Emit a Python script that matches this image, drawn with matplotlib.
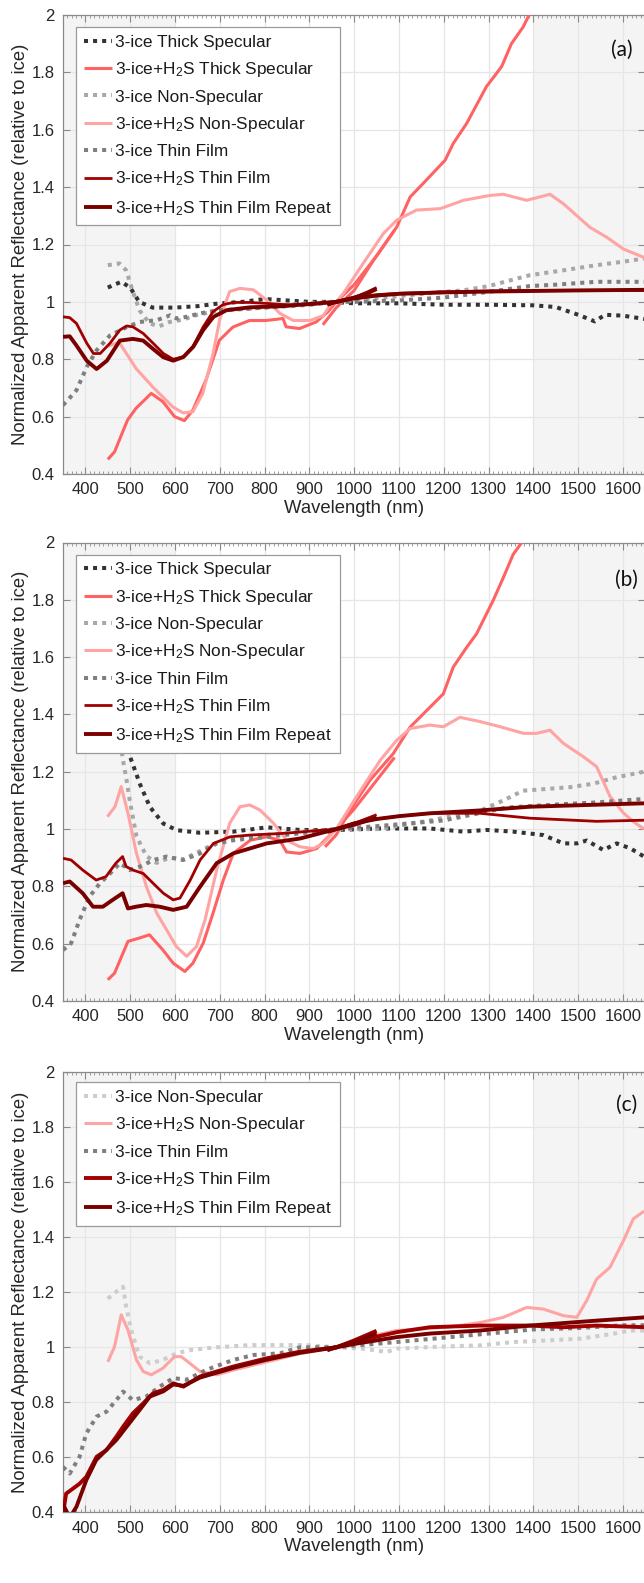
import numpy as np
import matplotlib
matplotlib.use("Agg")
import matplotlib.pyplot as plt
from matplotlib.ticker import MultipleLocator, FuncFormatter

plt.rcParams['font.family'] = ['Liberation Sans', 'DejaVu Sans']
plt.rcParams['mathtext.default'] = 'regular'

# ---------------- data: panel (a) ----------------
a_tspec_x = [450, 480, 500, 520, 550, 600, 650, 700, 750, 800, 850, 900, 950, 1000, 1100, 1200, 1300, 1400, 1450, 1500, 1537, 1560, 1600, 1650]
a_tspec_y = [1.05, 1.07, 1.05, 1.0, 0.98, 0.98, 0.985, 0.995, 1.0, 1.01, 1.005, 1.0, 1.0, 0.995, 0.995, 0.99, 0.99, 0.988, 0.982, 0.955, 0.932, 0.955, 0.952, 0.94]
a_htspec_vis_x = [450, 465, 494, 513, 547, 573, 599, 621, 640, 669, 699, 729, 766, 803, 841, 848, 878, 915, 941, 960, 1000, 1050, 1090]
a_htspec_vis_y = [0.451, 0.477, 0.588, 0.629, 0.681, 0.652, 0.600, 0.586, 0.623, 0.727, 0.866, 0.912, 0.935, 0.935, 0.942, 0.913, 0.907, 0.930, 0.965, 1.0, 1.06, 1.16, 1.25]
a_htspec_nir_x = [930, 960, 1000, 1043, 1095, 1125, 1154, 1203, 1221, 1251, 1295, 1329, 1351, 1377, 1392, 1420]
a_htspec_nir_y = [0.92, 0.98, 1.04, 1.145, 1.261, 1.366, 1.413, 1.494, 1.552, 1.622, 1.75, 1.82, 1.90, 1.958, 2.005, 2.08]
a_ns_x = [450, 476, 491, 506, 521, 543, 565, 588, 618, 650, 700, 750, 800, 850, 900, 960, 1000, 1100, 1200, 1243, 1300, 1392, 1467, 1541, 1600, 1647]
a_ns_y = [1.128, 1.134, 1.11, 1.035, 0.97, 0.925, 0.915, 0.93, 0.938, 0.955, 0.97, 0.975, 0.98, 0.99, 0.995, 1.0, 1.005, 1.02, 1.035, 1.04, 1.055, 1.093, 1.11, 1.128, 1.14, 1.151]
a_hns_x = [450, 475, 513, 550, 595, 618, 640, 662, 685, 700, 722, 745, 775, 805, 834, 864, 901, 931, 946, 960, 976, 1020, 1065, 1095, 1139, 1192, 1244, 1303, 1333, 1385, 1437, 1467, 1526, 1564, 1601, 1647]
a_hns_y = [0.845, 0.86, 0.768, 0.704, 0.634, 0.613, 0.617, 0.681, 0.82, 0.94, 1.036, 1.047, 1.042, 1.006, 0.96, 0.935, 0.935, 0.952, 0.987, 1.0, 1.03, 1.134, 1.238, 1.285, 1.32, 1.325, 1.354, 1.371, 1.375, 1.354, 1.375, 1.342, 1.26, 1.225, 1.184, 1.155]
a_tf_x = [350, 362, 380, 403, 425, 455, 492, 521, 559, 589, 604, 626, 656, 693, 750, 800, 850, 900, 960, 1000, 1100, 1200, 1300, 1392, 1450, 1541, 1647]
a_tf_y = [0.64, 0.66, 0.692, 0.773, 0.831, 0.883, 0.912, 0.93, 0.936, 0.953, 0.942, 0.948, 0.96, 0.97, 0.975, 0.98, 0.985, 0.99, 1.0, 1.0, 1.005, 1.015, 1.035, 1.055, 1.06, 1.07, 1.07]
a_htf_vis_x = [350, 365, 380, 403, 418, 433, 455, 477, 492, 506, 529, 551, 574, 596, 618, 640, 663, 685, 707, 730, 767, 800, 850, 900, 960, 1000, 1030, 1050]
a_htf_vis_y = [0.948, 0.945, 0.925, 0.856, 0.82, 0.82, 0.856, 0.902, 0.916, 0.913, 0.89, 0.856, 0.82, 0.8, 0.808, 0.844, 0.913, 0.966, 0.99, 0.998, 0.998, 0.995, 0.99, 0.99, 1.0, 1.015, 1.035, 1.05]
a_htf_nir_x = [940, 960, 1000, 1050, 1100, 1200, 1300, 1400, 1500, 1650]
a_htf_nir_y = [0.99, 1.0, 1.015, 1.025, 1.03, 1.035, 1.038, 1.04, 1.04, 1.04]
a_rep_vis_x = [350, 365, 380, 403, 425, 448, 477, 506, 529, 551, 574, 596, 619, 641, 663, 686, 715, 767, 841, 878, 960, 1000, 1030, 1050]
a_rep_vis_y = [0.878, 0.88, 0.848, 0.795, 0.766, 0.795, 0.865, 0.871, 0.865, 0.836, 0.807, 0.795, 0.808, 0.844, 0.902, 0.948, 0.971, 0.981, 0.985, 0.99, 1.0, 1.015, 1.03, 1.045]
a_rep_nir_x = [940, 960, 1000, 1050, 1100, 1200, 1300, 1400, 1500, 1650]
a_rep_nir_y = [0.99, 1.0, 1.012, 1.022, 1.028, 1.033, 1.036, 1.038, 1.04, 1.042]

# ---------------- data: panel (b) ----------------
b_tspec_x = [460, 475, 497, 522, 544, 574, 604, 656, 730, 805, 879, 946, 1058, 1169, 1244, 1296, 1355, 1422, 1467, 1497, 1519, 1556, 1586, 1616, 1647]
b_tspec_y = [1.75, 1.5, 1.264, 1.156, 1.077, 1.019, 0.996, 0.987, 0.991, 1.006, 0.997, 0.996, 1.002, 1.002, 0.991, 0.997, 0.991, 0.979, 0.95, 0.95, 0.96, 0.927, 0.95, 0.933, 0.904]
b_htspec_vis_x = [450, 465, 495, 521, 543, 573, 596, 622, 640, 663, 685, 708, 730, 768, 805, 834, 849, 879, 916, 960, 1000, 1050, 1090]
b_htspec_vis_y = [0.474, 0.497, 0.608, 0.62, 0.631, 0.578, 0.532, 0.503, 0.532, 0.602, 0.707, 0.823, 0.915, 0.961, 0.973, 0.961, 0.92, 0.915, 0.932, 1.0, 1.07, 1.17, 1.25]
b_htspec_nir_x = [935, 960, 991, 1035, 1087, 1125, 1162, 1199, 1221, 1251, 1273, 1310, 1333, 1355, 1374, 1400]
b_htspec_nir_y = [0.938, 0.98, 1.066, 1.17, 1.263, 1.356, 1.414, 1.472, 1.565, 1.634, 1.681, 1.797, 1.878, 1.959, 2.0, 2.06]
b_ns_x = [450, 470, 484, 492, 499, 514, 536, 559, 588, 618, 648, 693, 767, 842, 960, 1057, 1169, 1281, 1333, 1377, 1429, 1481, 1533, 1586, 1647]
b_ns_y = [1.45, 1.38, 1.24, 1.17, 1.1, 0.975, 0.906, 0.882, 0.9, 0.894, 0.917, 0.952, 0.975, 0.985, 1.0, 1.0, 1.03, 1.064, 1.1, 1.134, 1.14, 1.146, 1.158, 1.181, 1.2]
b_hns_x = [449, 466, 480, 495, 514, 536, 559, 581, 603, 626, 648, 667, 693, 722, 745, 767, 790, 820, 849, 879, 909, 931, 960, 1000, 1058, 1095, 1125, 1169, 1199, 1236, 1281, 1326, 1378, 1407, 1437, 1467, 1512, 1541, 1571, 1601, 1623, 1647]
b_hns_y = [1.043, 1.078, 1.148, 1.055, 0.915, 0.8, 0.707, 0.649, 0.59, 0.556, 0.59, 0.683, 0.857, 1.02, 1.078, 1.084, 1.066, 1.02, 0.961, 0.938, 0.932, 0.95, 1.0, 1.1, 1.24, 1.31, 1.351, 1.363, 1.357, 1.39, 1.375, 1.357, 1.334, 1.334, 1.345, 1.299, 1.252, 1.218, 1.114, 1.056, 1.026, 1.0]
b_tf_x = [350, 368, 387, 409, 432, 455, 477, 499, 522, 552, 581, 618, 656, 693, 730, 805, 879, 960, 1050, 1200, 1340, 1467, 1541, 1647]
b_tf_y = [0.578, 0.601, 0.683, 0.764, 0.81, 0.845, 0.881, 0.857, 0.869, 0.892, 0.904, 0.892, 0.915, 0.95, 0.961, 0.973, 0.985, 1.0, 1.01, 1.03, 1.075, 1.087, 1.093, 1.105]
b_htf_vis_x = [350, 368, 394, 424, 446, 468, 483, 491, 506, 529, 551, 574, 596, 611, 634, 656, 686, 723, 767, 842, 960, 1000, 1050]
b_htf_vis_y = [0.898, 0.892, 0.857, 0.822, 0.834, 0.881, 0.904, 0.869, 0.857, 0.845, 0.811, 0.776, 0.753, 0.759, 0.822, 0.892, 0.95, 0.973, 0.979, 0.985, 1.0, 1.02, 1.05]
b_htf_nir_x = [940, 960, 1000, 1050, 1100, 1169, 1281, 1392, 1541, 1650]
b_htf_nir_y = [0.99, 1.0, 1.02, 1.035, 1.045, 1.055, 1.055, 1.038, 1.027, 1.031]
b_rep_vis_x = [350, 365, 394, 417, 439, 461, 483, 495, 513, 536, 566, 596, 626, 656, 693, 730, 805, 879, 960, 1000, 1050]
b_rep_vis_y = [0.811, 0.817, 0.776, 0.729, 0.729, 0.753, 0.776, 0.723, 0.729, 0.735, 0.729, 0.718, 0.729, 0.799, 0.881, 0.915, 0.95, 0.967, 1.0, 1.015, 1.04]
b_rep_nir_x = [940, 960, 1000, 1050, 1100, 1169, 1281, 1392, 1541, 1650]
b_rep_nir_y = [0.99, 1.0, 1.02, 1.035, 1.045, 1.055, 1.065, 1.078, 1.085, 1.09]

# ---------------- data: panel (c) ----------------
c_ns_x = [450, 469, 484, 491, 502, 521, 544, 573, 603, 633, 693, 767, 842, 894, 960, 1020, 1073, 1095, 1169, 1281, 1355, 1429, 1503, 1578, 1616, 1647]
c_ns_y = [1.177, 1.202, 1.22, 1.148, 1.063, 0.966, 0.942, 0.954, 0.978, 0.99, 1.0, 1.008, 1.008, 1.008, 1.0, 0.995, 0.983, 0.995, 1.001, 1.007, 1.019, 1.025, 1.031, 1.049, 1.061, 1.061]
c_hns_x = [450, 465, 480, 495, 514, 529, 547, 573, 599, 614, 633, 656, 693, 730, 805, 879, 960, 1020, 1095, 1206, 1281, 1333, 1385, 1422, 1467, 1497, 1519, 1541, 1571, 1601, 1623, 1647]
c_hns_y = [0.947, 1.002, 1.118, 1.063, 0.954, 0.912, 0.9, 0.924, 0.966, 0.966, 0.942, 0.912, 0.9, 0.917, 0.947, 0.977, 1.0, 1.035, 1.061, 1.073, 1.09, 1.109, 1.145, 1.139, 1.115, 1.109, 1.17, 1.248, 1.291, 1.388, 1.467, 1.495]
c_tf_x = [350, 365, 387, 402, 425, 447, 469, 484, 506, 536, 566, 596, 626, 670, 730, 775, 834, 879, 960, 1100, 1300, 1400, 1500, 1600, 1650]
c_tf_y = [0.565, 0.541, 0.602, 0.687, 0.748, 0.766, 0.808, 0.839, 0.808, 0.821, 0.857, 0.888, 0.882, 0.918, 0.954, 0.972, 0.978, 1.0, 1.0, 1.02, 1.05, 1.065, 1.07, 1.08, 1.08]
c_htf_vis_x = [350, 357, 387, 402, 425, 447, 469, 484, 506, 529, 551, 574, 596, 619, 656, 730, 805, 879, 960, 1000, 1050]
c_htf_vis_y = [0.395, 0.468, 0.504, 0.529, 0.602, 0.626, 0.675, 0.711, 0.76, 0.796, 0.833, 0.845, 0.869, 0.857, 0.894, 0.93, 0.96, 0.984, 1.0, 1.025, 1.06]
c_htf_nir_x = [940, 960, 1000, 1095, 1169, 1281, 1392, 1467, 1541, 1650]
c_htf_nir_y = [0.99, 1.0, 1.02, 1.055, 1.073, 1.079, 1.079, 1.073, 1.079, 1.073]
c_rep_vis_x = [350, 365, 380, 402, 424, 469, 521, 544, 574, 596, 619, 656, 730, 805, 879, 960, 1000, 1050]
c_rep_vis_y = [0.43, 0.38, 0.42, 0.517, 0.59, 0.663, 0.772, 0.821, 0.84, 0.865, 0.86, 0.89, 0.925, 0.955, 0.98, 1.0, 1.02, 1.05]
c_rep_nir_x = [940, 960, 1000, 1095, 1169, 1281, 1392, 1467, 1541, 1650]
c_rep_nir_y = [0.99, 1.0, 1.012, 1.037, 1.05, 1.061, 1.079, 1.088, 1.097, 1.109]

lab_tspec = '3-ice Thick Specular'
lab_htspec = '3-ice+H$_2$S Thick Specular'
lab_ns = '3-ice Non-Specular'
lab_hns = '3-ice+H$_2$S Non-Specular'
lab_tf = '3-ice Thin Film'
lab_htf = '3-ice+H$_2$S Thin Film'
lab_rep = '3-ice+H$_2$S Thin Film Repeat'

panel_letters = ['(a)', '(b)', '(c)']
x_ticks = list(range(400, 1700, 100))
y_ticks = [0.4, 0.6, 0.8, 1.0, 1.2, 1.4, 1.6, 1.8, 2.0]
shade_spans = [(350, 600), (1400, 1650)]

# ---------------- style ----------------
C_TSPEC = '#333333'
C_HTSPEC = '#ff6262'
C_NS = '#a8a8a8'
C_NS_C = '#cdcdcd'
C_HNS = '#ffa3a3'
C_TF = '#7f7f7f'
C_HTF = '#a00000'
C_REP = '#7a0000'
DOT = (0, (1.0, 1.25))
DLW = 2.9

W, H = 644, 1583
fig = plt.figure(figsize=(W / 100, H / 100), dpi=100)

left = 63 / W
right_px = 645.4
axw = (right_px - 63) / W
panels_px = [(15.0, 474.0), (542.5, 1001.0), (1072.3, 1512.3)]
axes = []
for (t, b) in panels_px:
    ax = fig.add_axes([left, 1 - b / H, axw, (b - t) / H])
    axes.append(ax)


def dotted(ax, x, y, color, label=None):
    ax.plot(x, y, color=color, lw=DLW, linestyle=DOT, dash_capstyle='butt', label=label, zorder=3)


def solid(ax, x, y, color, lw, label=None):
    ax.plot(x, y, color=color, lw=lw, solid_capstyle='butt', solid_joinstyle='round', label=label, zorder=3)


# panel a
ax = axes[0]
dotted(ax, a_tspec_x, a_tspec_y, C_TSPEC, lab_tspec)
solid(ax, a_htspec_vis_x, a_htspec_vis_y, C_HTSPEC, 2.2, lab_htspec)
solid(ax, a_htspec_nir_x, a_htspec_nir_y, C_HTSPEC, 2.2)
dotted(ax, a_ns_x, a_ns_y, C_NS, lab_ns)
solid(ax, a_hns_x, a_hns_y, C_HNS, 2.2, lab_hns)
dotted(ax, a_tf_x, a_tf_y, C_TF, lab_tf)
solid(ax, a_htf_vis_x, a_htf_vis_y, C_HTF, 2.0, lab_htf)
solid(ax, a_htf_nir_x, a_htf_nir_y, C_HTF, 2.0)
solid(ax, a_rep_vis_x, a_rep_vis_y, C_REP, 2.8, lab_rep)
solid(ax, a_rep_nir_x, a_rep_nir_y, C_REP, 2.8)

# panel b
ax = axes[1]
dotted(ax, b_tspec_x, b_tspec_y, C_TSPEC, lab_tspec)
solid(ax, b_htspec_vis_x, b_htspec_vis_y, C_HTSPEC, 2.2, lab_htspec)
solid(ax, b_htspec_nir_x, b_htspec_nir_y, C_HTSPEC, 2.2)
dotted(ax, b_ns_x, b_ns_y, C_NS, lab_ns)
solid(ax, b_hns_x, b_hns_y, C_HNS, 2.2, lab_hns)
dotted(ax, b_tf_x, b_tf_y, C_TF, lab_tf)
solid(ax, b_htf_vis_x, b_htf_vis_y, C_HTF, 2.0, lab_htf)
solid(ax, b_htf_nir_x, b_htf_nir_y, C_HTF, 2.0)
solid(ax, b_rep_vis_x, b_rep_vis_y, C_REP, 2.8, lab_rep)
solid(ax, b_rep_nir_x, b_rep_nir_y, C_REP, 2.8)

# panel c
ax = axes[2]
dotted(ax, c_ns_x, c_ns_y, C_NS_C, lab_ns)
solid(ax, c_hns_x, c_hns_y, C_HNS, 2.2, lab_hns)
dotted(ax, c_tf_x, c_tf_y, C_TF, lab_tf)
solid(ax, c_htf_vis_x, c_htf_vis_y, C_HTF, 2.8, lab_htf)
solid(ax, c_htf_nir_x, c_htf_nir_y, C_HTF, 2.8)
solid(ax, c_rep_vis_x, c_rep_vis_y, C_REP, 2.8, lab_rep)
solid(ax, c_rep_nir_x, c_rep_nir_y, C_REP, 2.8)

legend_anchor_y = [1 - 12 / 459, 1 - 12 / 458.5, 1 - 10 / 440]
letter_pos = [(0.96, 0.924), (0.968, 0.918), (0.968, 0.926)]

for i, ax in enumerate(axes):
    ax.set_xlim(350, 1650)
    ax.set_ylim(0.4, 2.0)
    for (s, e) in shade_spans:
        ax.axvspan(s, e, color='#f4f4f4', lw=0, zorder=0)
    ax.set_axisbelow(True)
    ax.grid(True, which='major', color='#e6e6e6', lw=0.9, zorder=1)
    ax.set_xticks(x_ticks)
    ax.set_yticks(y_ticks)
    ax.xaxis.set_minor_locator(MultipleLocator(10))
    ax.yaxis.set_major_formatter(FuncFormatter(lambda v, p: '%g' % v))
    ax.tick_params(axis='both', which='both', direction='in', top=True, right=True,
                   colors='#8a8a8a', labelcolor='#262626', labelsize=12)
    ax.tick_params(axis='both', which='major', length=5, width=0.8, pad=6)
    ax.tick_params(axis='x', which='minor', length=2.5, width=0.6)
    for sp in ax.spines.values():
        sp.set_color('#8a8a8a')
        sp.set_linewidth(0.9)
    ax.set_xlabel('Wavelength (nm)', fontsize=13.3, color='#262626', labelpad=2)
    ax.set_ylabel('Normalized Apparent Reflectance (relative to ice)', fontsize=13.3,
                  color='#262626', labelpad=2)
    leg = ax.legend(loc='upper left', bbox_to_anchor=(0.022, legend_anchor_y[i]),
                    borderaxespad=0, fontsize=12.4, handlelength=1.65, handletextpad=0.2,
                    labelspacing=0.6, borderpad=0.45, fancybox=False, framealpha=1,
                    edgecolor='#9a9a9a')
    leg.get_frame().set_linewidth(0.9)
    for t in leg.get_texts():
        t.set_color('#1a1a1a')
    ax.text(letter_pos[i][0], letter_pos[i][1], panel_letters[i], transform=ax.transAxes,
            ha='center', va='center', fontsize=15, family=['Lato', 'DejaVu Sans'], color='#111111')

fig.savefig('out.png', dpi=100)
